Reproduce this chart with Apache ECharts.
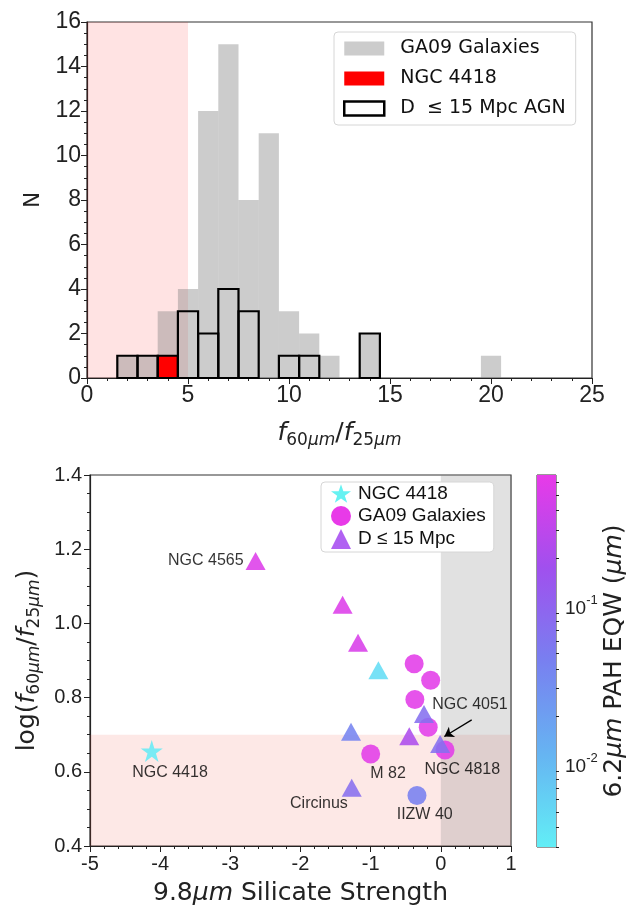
<!DOCTYPE html>
<html><head><meta charset="utf-8">
<script src="https://cdn.jsdelivr.net/npm/echarts@6/dist/echarts.min.js"></script>
<style>html,body{margin:0;padding:0;background:#fff}#c{width:634px;height:911px}</style>
</head><body><div id="c"></div>
<script>
// ---------- Top panel: histogram data ----------
const binWidth = 1;
const ga09Bins   = [2, 3, 4, 5, 6, 7, 8, 9, 10, 11, 12, 14, 20];
const ga09Counts = [1, 1, 3, 4, 12, 15, 8, 11, 3, 2, 1, 2, 1];
const n4418Bins   = [4];
const n4418Counts = [1];
const agnBins   = [2, 3, 4, 5, 6, 7, 8, 10, 11, 14];
const agnCounts = [1, 1, 1, 3, 2, 4, 3, 1, 1, 2];
const histXTicks = [0, 5, 10, 15, 20, 25];
const histYTicks = [0, 2, 4, 6, 8, 10, 12, 14, 16];
const ratioCut = [0, 5];

// ---------- Bottom panel: scatter data ----------
// [silicate strength, log(f60/f25), 6.2um PAH EQW]
const starX = [-4.12], starY = [0.656], starEQW = [0.0032];
const ga09X   = [-0.38, -0.145, -0.37, -0.18, 0.06, -1.00, -0.34];
const ga09Y   = [0.891, 0.847, 0.795, 0.720, 0.659, 0.648, 0.536];
const ga09EQW = [0.6, 0.6, 0.6, 0.6, 0.6, 0.6, 0.045];
const agnX   = [-2.64, -1.40, -1.18, -0.89, -0.24, -0.45, -1.28, -0.01, -1.27];
const agnY   = [1.168, 1.050, 0.948, 0.874, 0.756, 0.696, 0.708, 0.675, 0.557];
const agnEQW = [0.55, 0.55, 0.5, 0.0045, 0.07, 0.22, 0.04, 0.07, 0.075];
const annNames = ['NGC 4565', 'NGC 4418', 'M 82', 'NGC 4818', 'NGC 4051', 'Circinus', 'IIZW 40'];
const annX = [-3.35, -3.86, -0.753, 0.306, 0.415, -1.737, -0.23];
const annY = [1.168, 0.598, 0.596, 0.605, 0.780, 0.515, 0.484];
const arrowFrom = [0.44, 0.740], arrowTo = [0.05, 0.695];
const silXRange = [-5, 1], logYRange = [0.4, 1.4];
const pinkYRange = [0.4, 0.7], greyXRange = [0, 1];
// colour bar (log10 of EQW)
const cbMinEQW = 0.003, cbMaxEQW = 0.67;
const cbMajor = [0.01, 0.1];
const cbMinor = [0.003,0.004,0.005,0.006,0.007,0.008,0.009,0.02,0.03,0.04,0.05,0.06,0.07,0.08,0.09,0.2,0.3,0.4,0.5,0.6];

// colour map (low -> high)
const cmap = ['#62eef6', '#66b4f2', '#7880f0', '#a050ee', '#e83ae8'];

const cbMin = Math.log10(cbMinEQW), cbMax = Math.log10(cbMaxEQW);
const pts = (xs, ys, es) => xs.map((x, i) => [x, ys[i], Math.log10(es[i])]);

const starPath = 'path://M50,0 L61.8,35.4 L100,35.4 L69.1,57.3 L80.9,92.7 L50,70.8 L19.1,92.7 L30.9,57.3 L0,35.4 L38.2,35.4 Z';
const AX = '#222';
const tickFont = 'Liberation Sans';

function histItem(style) {
  return function (params, api) {
    const c = api.value(0), n = api.value(1);
    const p0 = api.coord([c - binWidth / 2, n]);
    const p1 = api.coord([c + binWidth / 2, 0]);
    return { type: 'rect', shape: { x: p0[0], y: p0[1], width: p1[0] - p0[0], height: p1[1] - p0[1] }, style: style };
  };
}

const sub = { fontFamily: 'DejaVu Sans', fontSize: 17, verticalAlign: 'bottom', lineHeight: 17, color: AX };
const subI = Object.assign({}, sub, { fontStyle: 'italic' });
const mainI = { fontFamily: 'DejaVu Sans', fontSize: 25, fontStyle: 'italic', verticalAlign: 'middle', lineHeight: 32, color: AX };
const mainN = { fontFamily: 'DejaVu Sans', fontSize: 25, verticalAlign: 'middle', lineHeight: 32, color: AX };

const chart = echarts.init(document.getElementById('c'), null, { renderer: 'canvas' });
chart.setOption({
  animation: false,
  backgroundColor: '#fff',
  grid: [
    { left: 87, top: 22, width: 505, height: 356, show: true, borderColor: '#333', borderWidth: 1.2, backgroundColor: 'transparent' },
    { left: 90, top: 475, width: 421, height: 371, show: true, borderColor: '#333', borderWidth: 1.2, backgroundColor: 'transparent' },
    { left: 537, top: 475, width: 19, height: 372, show: true, borderColor: '#333', borderWidth: 1, backgroundColor: 'transparent' }
  ],
  xAxis: [
    { gridIndex: 0, type: 'value', min: histXTicks[0], max: histXTicks[histXTicks.length - 1], interval: 5,
      splitLine: { show: false }, axisLine: { lineStyle: { color: AX, width: 1.2 } },
      axisTick: { length: 6, lineStyle: { color: AX } },
      minorTick: { show: true, splitNumber: 5, length: 3, lineStyle: { color: AX } },
      axisLabel: { fontFamily: tickFont, fontSize: 23, color: AX, margin: 6 },
      name: '{i|f}{s|60}{si|μm}{n|/}{i|f}{s|25}{si|μm}', nameLocation: 'middle', nameGap: 39,
      nameTextStyle: { rich: { i: mainI, n: mainN, s: sub, si: subI } } },
    { gridIndex: 1, type: 'value', min: silXRange[0], max: silXRange[1], interval: 1,
      splitLine: { show: false }, axisLine: { onZero: false, lineStyle: { color: AX, width: 1.2 } },
      axisTick: { length: 6, lineStyle: { color: AX } },
      minorTick: { show: true, splitNumber: 5, length: 3, lineStyle: { color: AX } },
      axisLabel: { fontFamily: tickFont, fontSize: 20, color: AX, margin: 8 },
      name: '9.8{i|μm} Silicate Strength', nameLocation: 'middle', nameGap: 35,
      nameTextStyle: { fontFamily: 'DejaVu Sans', fontSize: 25, color: AX, rich: { i: { fontFamily: 'DejaVu Sans', fontSize: 25, fontStyle: 'italic', color: AX } } } },
    { gridIndex: 2, type: 'value', min: 0, max: 1, show: false }
  ],
  yAxis: [
    { gridIndex: 0, type: 'value', min: histYTicks[0], max: histYTicks[histYTicks.length - 1], interval: 2,
      splitLine: { show: false }, axisLine: { lineStyle: { color: AX, width: 1.2 } },
      axisTick: { length: 6, lineStyle: { color: AX } },
      minorTick: { show: true, splitNumber: 4, length: 3, lineStyle: { color: AX } },
      axisLabel: { fontFamily: tickFont, fontSize: 23, color: AX, margin: 6 },
      name: 'N', nameLocation: 'middle', nameGap: 43, nameRotate: 90,
      nameTextStyle: { fontFamily: 'DejaVu Sans', fontSize: 21, color: AX } },
    { gridIndex: 1, type: 'value', min: logYRange[0], max: logYRange[1], interval: 0.2,
      splitLine: { show: false }, axisLine: { onZero: false, lineStyle: { color: AX, width: 1.2 } },
      axisTick: { length: 6, lineStyle: { color: AX } },
      minorTick: { show: true, splitNumber: 4, length: 3, lineStyle: { color: AX } },
      axisLabel: { fontFamily: tickFont, fontSize: 20, color: AX, margin: 8, formatter: v => v.toFixed(1) },
      name: 'log({i|f}{s|60}{si|μm}{n|/}{i|f}{s|25}{si|μm})', nameLocation: 'middle', nameGap: 46, nameRotate: 90,
      nameTextStyle: { fontFamily: 'DejaVu Sans', fontSize: 25, color: AX, verticalAlign: 'middle', lineHeight: 32, rich: { i: mainI, n: mainN, s: sub, si: subI } } },
    { gridIndex: 2, type: 'value', min: cbMin, max: cbMax, position: 'right',
      splitLine: { show: false }, axisLine: { show: false },
      axisTick: { show: true, customValues: cbMajor.map(Math.log10), length: 6, lineStyle: { color: AX } },
      axisLabel: { show: true, customValues: cbMajor.map(Math.log10), fontFamily: tickFont, fontSize: 19, color: AX, margin: 9,
        formatter: v => '{b|10}{sup|' + Math.round(v) + '}',
        rich: { b: { fontFamily: tickFont, fontSize: 19, color: AX, verticalAlign: 'bottom', lineHeight: 24 },
                sup: { fontFamily: tickFont, fontSize: 13, color: AX, verticalAlign: 'top', lineHeight: 13 } } },
      name: '6.2{i|μm} PAH EQW ({i|μm})', nameLocation: 'middle', nameGap: 42, nameRotate: 90,
      nameTextStyle: { fontFamily: 'DejaVu Sans', fontSize: 25, color: AX, rich: { i: { fontFamily: 'DejaVu Sans', fontSize: 25, fontStyle: 'italic', color: AX } } } },
    { gridIndex: 2, type: 'value', min: cbMin, max: cbMax, position: 'right',
      splitLine: { show: false }, axisLine: { show: false },
      axisTick: { show: true, customValues: cbMinor.map(Math.log10), length: 3, lineStyle: { color: AX } },
      axisLabel: { show: false } }
  ],
  visualMap: {
    type: 'continuous', show: false, dimension: 2, min: cbMin, max: cbMax,
    seriesIndex: [5, 6, 7], inRange: { color: cmap }
  },
  legend: [
    { left: 334, top: 32, orient: 'vertical', itemWidth: 40, itemHeight: 14, itemGap: 11,
      padding: [7, 10, 7, 9], backgroundColor: '#fff', borderColor: '#d6d6d6', borderWidth: 1, borderRadius: 4,
      selectedMode: false,
      textStyle: { fontFamily: 'DejaVu Sans', fontSize: 19, color: '#111', padding: [0, 0, 0, 11] },
      data: [
        { name: 'GA09 Galaxies', icon: 'rect', itemStyle: { color: '#cccccc', borderWidth: 0 } },
        { name: 'NGC 4418', icon: 'rect', itemStyle: { color: '#ff0000', borderWidth: 0 } },
        { name: 'D  ≤ 15 Mpc AGN', icon: 'rect', itemStyle: { color: '#ffffff', borderColor: '#000', borderWidth: 2.5 } }
      ] },
    { left: 321, top: 482, orient: 'vertical', itemWidth: 20, itemHeight: 20, itemGap: 3,
      padding: [2, 8, 3, 10], backgroundColor: '#fff', borderColor: '#d6d6d6', borderWidth: 1, borderRadius: 4,
      selectedMode: false,
      textStyle: { fontFamily: 'Liberation Sans', fontSize: 19, color: '#111', padding: [0, 0, 0, 2] },
      data: [
        { name: 'NGC 4418', icon: starPath, itemStyle: { color: '#66f2f2', borderWidth: 0 } },
        { name: 'GA09 Galaxies', icon: 'circle', itemStyle: { color: '#e83ae8', borderWidth: 0 } },
        { name: 'D ≤ 15 Mpc', icon: 'triangle', itemStyle: { color: '#a64cf0', borderWidth: 0 } }
      ] }
  ],
  series: [
    // 0: pink span (top)
    { type: 'line', xAxisIndex: 0, yAxisIndex: 0, data: [], silent: true,
      markArea: { silent: true, itemStyle: { color: 'rgba(255,0,0,0.11)' },
        data: [[{ xAxis: ratioCut[0], yAxis: histYTicks[0] }, { xAxis: ratioCut[1], yAxis: histYTicks[histYTicks.length - 1] }]] } },
    // 1: GA09 histogram
    { name: 'GA09 Galaxies', type: 'custom', xAxisIndex: 0, yAxisIndex: 0,
      renderItem: histItem({ fill: 'rgba(128,128,128,0.4)' }),
      data: ga09Bins.map((b, i) => [b, ga09Counts[i]]) },
    // 2: NGC 4418 histogram
    { name: 'NGC 4418', type: 'custom', xAxisIndex: 0, yAxisIndex: 0,
      renderItem: histItem({ fill: '#ff0000' }),
      data: n4418Bins.map((b, i) => [b, n4418Counts[i]]) },
    // 3: AGN outline histogram
    { name: 'D  ≤ 15 Mpc AGN', type: 'custom', xAxisIndex: 0, yAxisIndex: 0,
      renderItem: histItem({ fill: 'none', stroke: '#000', lineWidth: 2.2 }),
      data: agnBins.map((b, i) => [b, agnCounts[i]]) },
    // 4: shaded regions (bottom)
    { type: 'line', xAxisIndex: 1, yAxisIndex: 1, data: [], silent: true,
      markArea: { silent: true,
        data: [
          [{ xAxis: silXRange[0], yAxis: pinkYRange[0], itemStyle: { color: 'rgba(240,80,60,0.13)' } }, { xAxis: silXRange[1], yAxis: pinkYRange[1] }],
          [{ xAxis: greyXRange[0], yAxis: logYRange[0], itemStyle: { color: 'rgba(128,128,128,0.24)' } }, { xAxis: greyXRange[1], yAxis: logYRange[1] }]
        ] } },
    // 5: GA09 circles
    { name: 'GA09 Galaxies', type: 'scatter', xAxisIndex: 1, yAxisIndex: 1, symbol: 'circle', symbolSize: 19,
      itemStyle: { opacity: 0.88 }, data: pts(ga09X, ga09Y, ga09EQW), z: 3 },
    // 6: AGN triangles
    { name: 'D ≤ 15 Mpc', type: 'scatter', xAxisIndex: 1, yAxisIndex: 1, symbol: 'triangle', symbolSize: [20, 18],
      itemStyle: { opacity: 0.88 }, data: pts(agnX, agnY, agnEQW), z: 4 },
    // 7: NGC 4418 star
    { name: 'NGC 4418', type: 'scatter', xAxisIndex: 1, yAxisIndex: 1, symbol: starPath, symbolSize: 22,
      itemStyle: { opacity: 0.85 }, data: pts(starX, starY, starEQW), z: 4 },
    // 8: annotations + arrow
    { type: 'scatter', xAxisIndex: 1, yAxisIndex: 1, symbolSize: 0, silent: true, z: 5,
      data: annNames.map((n, i) => ({ value: [annX[i], annY[i]], name: n })),
      label: { show: true, position: 'inside', formatter: p => p.name, fontFamily: 'Liberation Sans', fontSize: 16, color: '#000' },
      markLine: { silent: true, symbol: ['none', 'arrow'], symbolSize: 9, label: { show: false },
        lineStyle: { color: '#000', width: 1.3, type: 'solid' },
        data: [[{ coord: arrowFrom }, { coord: arrowTo }]] } },
    // 9: colour bar
    { type: 'custom', xAxisIndex: 2, yAxisIndex: 2, silent: true,
      data: [[cbMin, cbMax]],
      renderItem: (params, api) => {
        const p0 = api.coord([0, api.value(1)]);
        const p1 = api.coord([1, api.value(0)]);
        const n = cmap.length - 1;
        return { type: 'rect', shape: { x: p0[0], y: p0[1], width: p1[0] - p0[0], height: p1[1] - p0[1] },
          style: { fill: { type: 'linear', x: 0, y: 0, x2: 0, y2: 1,
            colorStops: cmap.map((c, i) => ({ offset: 1 - i / n, color: c })).reverse() } } };
      } }
  ]
});
</script>
</body></html>
